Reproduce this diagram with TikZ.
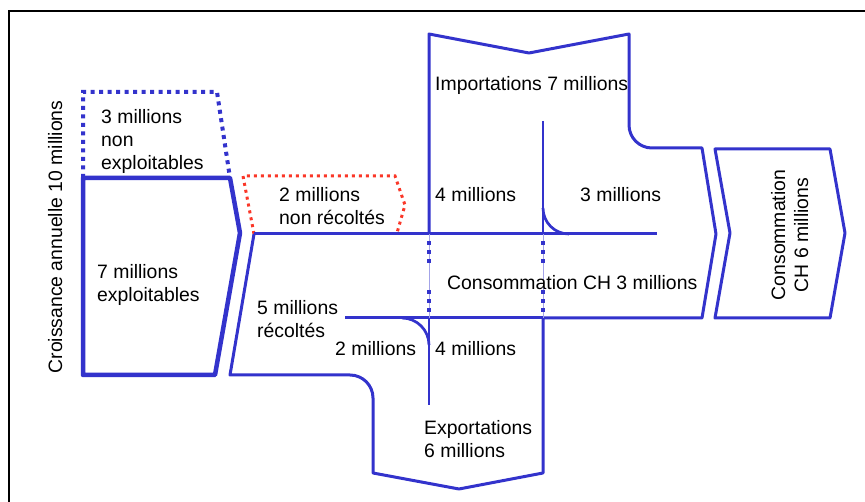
\documentclass[tikz,border=0pt]{standalone}
\usepackage{fontspec}
\setmainfont{Liberation Sans}
\definecolor{flowblue}{RGB}{51,51,204}
\definecolor{flowred}{RGB}{250,55,40}
\begin{document}
\begin{tikzpicture}[x=1pt,y=-1pt,
  font=\fontsize{19.4}{23}\selectfont,
  flow/.style={draw=flowblue, line width=3pt, line join=round},
  thickflow/.style={draw=flowblue, line width=4.5pt, line join=round},
  innerline/.style={draw=flowblue, line width=2.7pt},
  thinlink/.style={draw=flowblue!45, line width=0.7pt},
  squarelink/.style={draw=flowblue, line width=4pt, dash pattern=on 4pt off 5pt},
  bluedots/.style={draw=flowblue, line width=4pt, dash pattern=on 4pt off 4.5pt},
  reddots/.style={draw=flowred, line width=3pt, dash pattern=on 3pt off 4pt},
  lbl/.style={inner sep=0pt, anchor=base west, align=left},
  framebox/.style={draw=black, line width=2.4pt}]
\useasboundingbox (0,0) rectangle (865,502);

% frame
\coordinate (fbl) at (9,502);
\coordinate (ftl) at (9,11);
\coordinate (ftr) at (865,11);
\draw[framebox] (fbl) -- (ftl) -- (ftr);

% non exploitables (dotted)
\draw[bluedots] (83,178) -- (83,92) -- (217,92) -- (230,178);
% exploitables box
\draw[thickflow] (83,178) -- (230,178) -- (240,233) -- (215,375) -- (83,375) -- cycle;

% non recoltes (red dotted)
\draw[reddots] (254,234) -- (243,176) -- (395,176) -- (405,205) -- (397,233);

% main flow outline
\draw[flow] (254,234) -- (230,375) -- (350,375)
  .. controls (362.7,375) and (373,385.3) .. (373,398)
  -- (373,473) -- (459,489) -- (543,473) -- (543,318) -- (702,318)
  -- (716,234) -- (702,148) -- (652,148)
  .. controls (639.3,148) and (629,137.7) .. (629,125)
  -- (629,34) -- (529,53) -- (429,34) -- (429,234);
% horizontal lines
\draw[flow] (254,234) -- (657,234);
\draw[flow] (345,318) -- (543,318);

% inner branch lines
\draw[innerline] (543,121) -- (543,234);
\draw[innerline] (543,208) .. controls (543,222.4) and (554.6,234) .. (569,234);
\draw[innerline] (429,318) -- (429,405);
\draw[innerline] (402,318) .. controls (416.9,318) and (429,330.1) .. (429,345);

% dotted links
\foreach \xx in {429,543} {
  \draw[thinlink] (\xx,234) -- (\xx,318);
  \draw[squarelink] (\xx,241) -- (\xx,267);
  \draw[squarelink] (\xx,290) -- (\xx,316);
}

% consommation CH 6 millions box
\draw[flow] (715,149) -- (830,149) -- (845,233) -- (830,318) -- (715,318) -- (730,233) -- cycle;

% labels (multi-line nodes anchored at the baseline of their last line)
\node[lbl] (nonexp) at (101,170) {3 millions\\non\\exploitables};
\node[lbl] (exploit) at (97,302) {7 millions\\exploitables};
\node[inner sep=0pt, rotate=90, anchor=base] (croiss) at (62,237) {Croissance annuelle 10 millions};
\node[lbl] (nonrec) at (279,224.5) {2 millions\\non récoltés};
\node[lbl] (import) at (435,90.5) {Importations 7 millions};
\node[lbl] (fourA) at (435,201.5) {4 millions};
\node[lbl] (three) at (580,201.5) {3 millions};
\node[lbl] (consch) at (447,290) {Consommation CH 3 millions};
\node[lbl] (recoltes) at (257,337.5) {5 millions\\récoltés};
\node[lbl] (two) at (335,356) {2 millions};
\node[lbl] (fourB) at (435,356) {4 millions};
\node[lbl] (export) at (424,457) {Exportations\\6 millions};
\node[inner sep=0pt, rotate=90, anchor=base, align=center] (conssix) at (808,235) {Consommation\\CH 6 millions};
\end{tikzpicture}
\end{document}
